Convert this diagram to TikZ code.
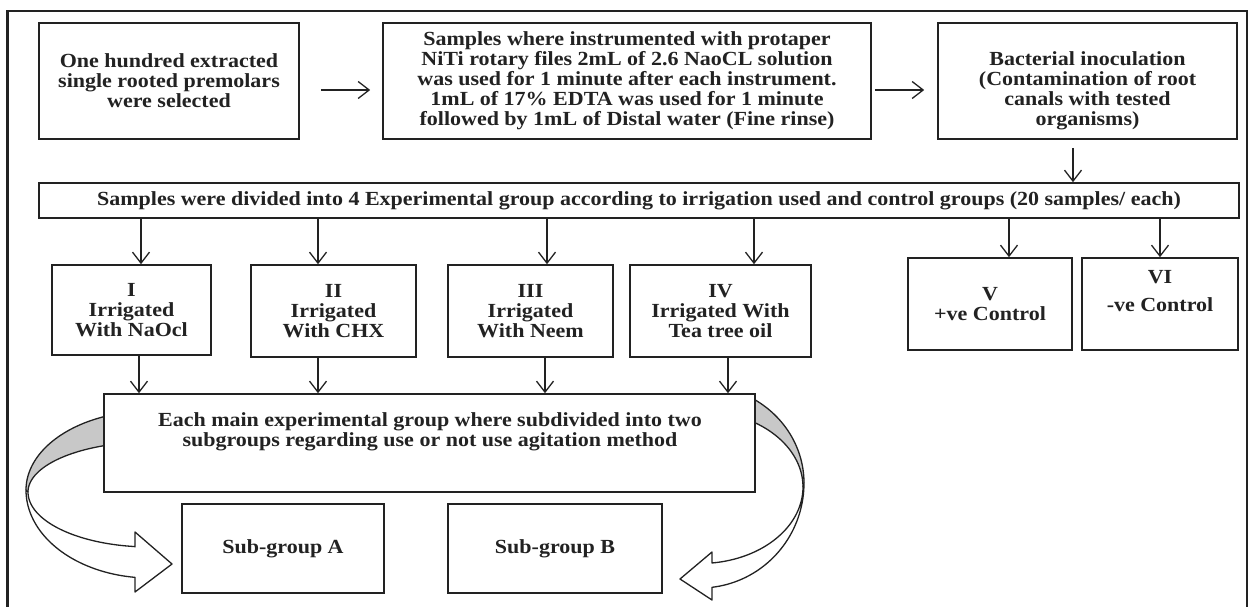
\documentclass[tikz,border=0pt]{standalone}
\usepackage{fontspec}
\setmainfont{Liberation Serif}[FakeStretch=1.1]
\usetikzlibrary{arrows.meta}
\definecolor{ink}{HTML}{222222}
\definecolor{band}{HTML}{C8C8C8}
\tikzset{
  box/.style={draw=ink, line width=1.6pt, fill=white, inner sep=0pt, align=center,
    font=\bfseries\fontsize{20}{20}\selectfont, text=ink},
  txt/.style={inner sep=0pt, align=center, font=\bfseries\fontsize{20}{20}\selectfont, text=ink},
  flow/.style={draw=ink, line width=1.3pt, -{Straight Barb[length=11pt,width=17pt,line width=1.3pt]}},
  curvy/.style={draw=ink, line width=1.3pt, line join=round},
  frame/.style={draw=ink, line width=2.6pt}
}
\begin{document}
\begin{tikzpicture}[x=1pt,y=-1pt]
\useasboundingbox (0,0) rectangle (1256,607);
\begin{scope}
  \clip (0,0) rectangle (1256,607);
  \draw[frame] (7.5,11) rectangle (1247,650);
\end{scope}

% top row
\node[box, minimum width=260pt, minimum height=116pt] (b1) at (169,81)
  {One hundred extracted\\single rooted premolars\\were selected};
\node[box, minimum width=488pt, minimum height=116pt] (b2) at (627,81)
  {Samples where instrumented with protaper\\NiTi rotary files 2mL of 2.6 NaoCL solution\\was used for 1 minute after each instrument.\\1mL of 17\% EDTA was used for 1 minute\\followed by 1mL of Distal water (Fine rinse)};
\node[box, minimum width=299pt, minimum height=116pt] (b3) at (1087.5,81) {};
\node[txt] (b3t) at (1087.5,91) {Bacterial inoculation\\(Contamination of root\\canals with tested\\organisms)};

% bar
\node[box, minimum width=1200pt, minimum height=35pt] (bar) at (639,200.5)
  {Samples were divided into 4 Experimental group according to irrigation used and control groups (20 samples/ each)};

% groups
\node[box, minimum width=159pt, minimum height=90pt] (g1) at (131.5,310) {I\\Irrigated\\With NaOcl};
\node[box, minimum width=165pt, minimum height=92pt] (g2) at (333.5,311) {II\\Irrigated\\With CHX};
\node[box, minimum width=165pt, minimum height=92pt] (g3) at (530.5,311) {III\\Irrigated\\With Neem};
\node[box, minimum width=181pt, minimum height=92pt] (g4) at (720.5,311) {IV\\Irrigated With\\Tea tree oil};
\node[box, minimum width=164pt, minimum height=92pt] (g5) at (990,304) {V\\+ve Control};
\node[box, minimum width=156pt, minimum height=92pt] (g6) at (1160,304) {};
\node[txt] (g6t) at (1160,291) {VI\\[8pt]-ve Control};

% curved arrows (drawn before the big box so it covers their ends)
\fill[band] plot[domain=105:180, samples=40, variable=\t] ({150+124*cos(\t)},{490-79*sin(\t)})
  -- plot[domain=180:105, samples=40, variable=\t] ({150+122*cos(\t)},{492-50*sin(\t)}) -- cycle;
\draw[curvy] plot[domain=105:180, samples=40, variable=\t] ({150+124*cos(\t)},{490-79*sin(\t)});
\draw[curvy] plot[domain=105:180, samples=40, variable=\t] ({150+122*cos(\t)},{492-50*sin(\t)});
\filldraw[curvy, fill=white] plot[domain=180:263.05, samples=40, variable=\t] ({150+124*cos(\t)},{490-88*sin(\t)})
  -- (135,592) -- (172,564) -- (135,532) -- (135,547)
  -- plot[domain=262.9:180, samples=40, variable=\t] ({150+122*cos(\t)},{492-55*sin(\t)}) -- cycle;

\fill[band] plot[domain=60:0, samples=40, variable=\t] ({700+104*cos(\t)},{483-98*sin(\t)})
  -- plot[domain=0:60, samples=40, variable=\t] ({700+103*cos(\t)},{487-76*sin(\t)}) -- cycle;
\draw[curvy] plot[domain=60:0, samples=40, variable=\t] ({700+104*cos(\t)},{483-98*sin(\t)});
\draw[curvy] plot[domain=60:0, samples=40, variable=\t] ({700+103*cos(\t)},{487-76*sin(\t)});
\filldraw[curvy, fill=white] plot[domain=0:-83.4, samples=40, variable=\t] ({700+104*cos(\t)},{483-105*sin(\t)})
  -- (712,600) -- (680,579) -- (712,552) -- (712,563)
  -- plot[domain=-83.3:0, samples=40, variable=\t] ({700+103*cos(\t)},{487-76.5*sin(\t)}) -- cycle;

% big box and subgroups
\node[box, minimum width=651pt, minimum height=98pt] (big) at (429.5,443) {};
\node[txt] (bigt) at (430,432) {Each main experimental group where subdivided into two\\subgroups regarding use or not use agitation method};
\node[box, minimum width=202pt, minimum height=89pt] (sa) at (283,548.5) {Sub-group A};
\node[box, minimum width=214pt, minimum height=89pt] (sb) at (555,548.5) {Sub-group B};

% connectors
\draw[flow] ([xshift=21pt,yshift=-9pt]b1.east) -- ([xshift=-12pt,yshift=-9pt]b2.west);
\draw[flow] ([xshift=3pt,yshift=-9pt]b2.east) -- ([xshift=-13pt,yshift=-9pt]b3.west);
\draw[flow] ([xshift=-14.5pt,yshift=-8pt]b3.south) -- ([xshift=-14.5pt]b3.south |- bar.north);

\draw[flow] ([xshift=9.5pt]g1.north |- bar.south) -- ([xshift=9.5pt]g1.north);
\draw[flow] ([xshift=-15.5pt]g2.north |- bar.south) -- ([xshift=-15.5pt]g2.north);
\draw[flow] ([xshift=16.5pt]g3.north |- bar.south) -- ([xshift=16.5pt]g3.north);
\draw[flow] ([xshift=33.5pt]g4.north |- bar.south) -- ([xshift=33.5pt]g4.north);
\draw[flow] ([xshift=19pt]g5.north |- bar.south) -- ([xshift=19pt]g5.north);
\draw[flow] (g6.north |- bar.south) -- (g6.north);

\draw[flow] ([xshift=7.5pt]g1.south) -- ([xshift=7.5pt]g1.south |- big.north);
\draw[flow] ([xshift=-15.5pt]g2.south) -- ([xshift=-15.5pt]g2.south |- big.north);
\draw[flow] ([xshift=14.5pt]g3.south) -- ([xshift=14.5pt]g3.south |- big.north);
\draw[flow] ([xshift=7.5pt]g4.south) -- ([xshift=7.5pt]g4.south |- big.north);
\end{tikzpicture}
\end{document}
